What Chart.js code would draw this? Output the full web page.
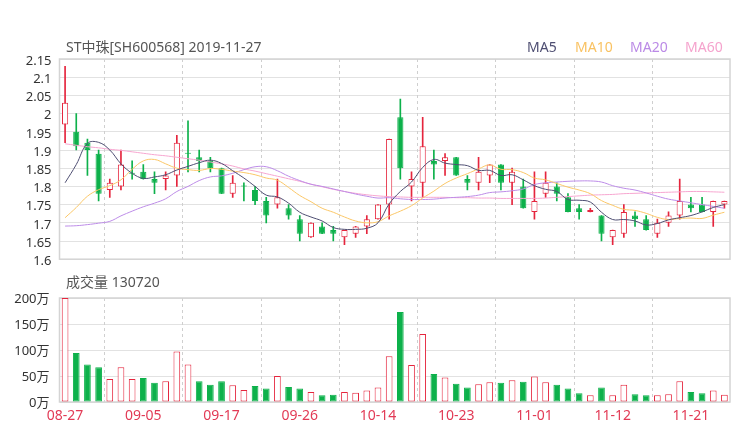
<!DOCTYPE html>
<html><head><meta charset="utf-8">
<script src="https://cdn.jsdelivr.net/npm/chart.js@4.4.1/dist/chart.umd.min.js"></script>
<style>
html,body{margin:0;padding:0;background:#fff;width:740px;height:440px;overflow:hidden;}
#wrap{position:relative;width:740px;height:440px;font-family:"Noto Sans","Noto Sans CJK SC",sans-serif;}
canvas{position:absolute;left:0;}
#c1{top:0;} #c2{top:280px;}
.t{position:absolute;white-space:nowrap;font-size:14px;line-height:16px;}
</style></head>
<body><div id="wrap">
<canvas id="c1" width="740" height="275"></canvas>
<canvas id="c2" width="740" height="160"></canvas>
<div class="t" style="left:66px;top:39px;color:#555">ST中珠[SH600568] 2019-11-27</div>
<div class="t" style="left:66px;top:274px;color:#555">成交量 130720</div>
<div class="t" style="left:527px;top:39px;color:#4e4e72">MA5</div>
<div class="t" style="left:575px;top:39px;color:#f9c262">MA10</div>
<div class="t" style="left:630px;top:39px;color:#bb8ae6">MA20</div>
<div class="t" style="left:685px;top:39px;color:#f5a3cd">MA60</div>
</div>
<script>
const dates = ['08-27','08-28','08-29','08-30','09-02','09-03','09-04','09-05','09-06','09-09',
 '09-10','09-11','09-12','09-16','09-17','09-18','09-19','09-20','09-23','09-24',
 '09-25','09-26','09-27','09-30','10-08','10-09','10-10','10-11','10-14','10-15',
 '10-16','10-17','10-18','10-21','10-22','10-23','10-24','10-25','10-28','10-29',
 '10-30','10-31','11-01','11-04','11-05','11-06','11-07','11-08','11-11','11-12',
 '11-13','11-14','11-15','11-18','11-19','11-20','11-21','11-22','11-25','11-26'];
const xTickLabels = ['08-27','09-05','09-17','09-26','10-14','10-23','11-01','11-12','11-21'];

const opens  = [1.97,1.95,1.92,1.89,1.79,1.80,1.835,1.84,1.82,1.82,1.83,1.89,1.88,1.87,1.85,1.78,1.80,1.79,1.76,1.75,1.74,1.71,1.66,1.69,1.68,1.66,1.67,1.69,1.71,1.75,1.99,1.80,1.81,1.87,1.87,1.88,1.82,1.81,1.83,1.86,1.81,1.80,1.73,1.78,1.80,1.77,1.74,1.73,1.72,1.66,1.67,1.72,1.71,1.67,1.70,1.72,1.75,1.75,1.73,1.75];
const closes = [2.03,1.91,1.90,1.78,1.81,1.86,1.835,1.82,1.81,1.83,1.92,1.89,1.87,1.85,1.78,1.81,1.80,1.76,1.72,1.77,1.72,1.67,1.70,1.67,1.67,1.68,1.69,1.71,1.75,1.93,1.85,1.82,1.91,1.86,1.88,1.83,1.81,1.84,1.86,1.81,1.84,1.74,1.76,1.81,1.78,1.73,1.73,1.735,1.67,1.68,1.73,1.71,1.68,1.70,1.72,1.76,1.74,1.73,1.76,1.76];
const highs  = [2.13,2.00,1.93,1.90,1.82,1.90,1.87,1.86,1.84,1.84,1.94,1.98,1.90,1.88,1.85,1.83,1.81,1.80,1.77,1.82,1.75,1.72,1.70,1.70,1.69,1.68,1.69,1.72,1.75,1.93,2.04,1.84,1.99,1.90,1.89,1.88,1.83,1.88,1.86,1.86,1.85,1.82,1.84,1.84,1.81,1.78,1.75,1.74,1.72,1.68,1.75,1.73,1.72,1.71,1.73,1.82,1.77,1.77,1.76,1.76];
const lows   = [1.92,1.90,1.83,1.76,1.77,1.79,1.82,1.82,1.78,1.79,1.80,1.84,1.84,1.84,1.78,1.77,1.76,1.75,1.70,1.74,1.71,1.65,1.66,1.67,1.65,1.64,1.66,1.67,1.71,1.71,1.82,1.76,1.77,1.82,1.83,1.83,1.79,1.79,1.81,1.79,1.75,1.74,1.71,1.77,1.76,1.73,1.71,1.73,1.65,1.64,1.66,1.69,1.68,1.66,1.69,1.71,1.73,1.73,1.69,1.74];

const ma5  = [1.810,1.860,1.918,1.921,1.900,1.862,1.836,1.822,1.826,1.832,1.845,1.855,1.865,1.872,1.863,1.843,1.823,1.800,1.776,1.771,1.754,1.729,1.716,1.705,1.687,1.682,1.682,1.685,1.700,1.752,1.786,1.812,1.852,1.874,1.864,1.860,1.857,1.844,1.844,1.830,1.832,1.818,1.802,1.792,1.786,1.764,1.762,1.757,1.729,1.709,1.709,1.705,1.694,1.698,1.708,1.714,1.720,1.730,1.742,1.750];
const ma10 = [1.714,1.742,1.773,1.791,1.802,1.818,1.847,1.870,1.874,1.862,1.850,1.846,1.844,1.849,1.847,1.842,1.838,1.832,1.823,1.817,1.797,1.775,1.758,1.740,1.729,1.716,1.705,1.700,1.703,1.719,1.732,1.747,1.768,1.787,1.808,1.823,1.835,1.848,1.859,1.847,1.846,1.838,1.823,1.818,1.808,1.798,1.790,1.780,1.761,1.748,1.737,1.734,1.726,1.715,1.709,1.712,1.713,1.712,1.721,1.729];
const ma20 = [1.691,1.692,1.695,1.699,1.704,1.719,1.732,1.744,1.754,1.766,1.786,1.800,1.816,1.826,1.829,1.836,1.846,1.854,1.854,1.843,1.828,1.816,1.806,1.800,1.793,1.786,1.779,1.773,1.768,1.769,1.766,1.764,1.764,1.765,1.768,1.770,1.772,1.776,1.783,1.785,1.788,1.793,1.805,1.810,1.812,1.814,1.815,1.815,1.812,1.802,1.795,1.790,1.782,1.773,1.765,1.760,1.755,1.750,1.745,1.740];
const ma60 = [1.917,1.913,1.909,1.906,1.902,1.899,1.895,1.891,1.887,1.884,1.880,1.876,1.872,1.867,1.862,1.856,1.848,1.842,1.835,1.828,1.821,1.814,1.806,1.799,1.792,1.786,1.781,1.777,1.774,1.772,1.771,1.770,1.770,1.770,1.770,1.769,1.769,1.768,1.768,1.767,1.767,1.767,1.767,1.768,1.770,1.772,1.774,1.776,1.777,1.778,1.780,1.781,1.782,1.783,1.784,1.785,1.786,1.786,1.785,1.784];

// volume in 万
const volumes = [200,94,72,67,44,67,44,46,37,40,97,72,40,33,40,32,23,31,26,50,29,26,19,13,14,19,18,22,28,88,173,71,131,54,47,35,28,34,38,37,42,39,49,38,33,26,17,13,28,13,33,15,13,13,15,40,19,17,22,14];

const priceTicks = [1.6,1.65,1.7,1.75,1.8,1.85,1.9,1.95,2,2.05,2.1,2.15];
const priceTickLabels = ['1.6','1.65','1.7','1.75','1.8','1.85','1.9','1.95','2','2.05','2.1','2.15'];
const volTicks = [0,50,100,150,200];
const volTickLabels = ['0万','50万','100万','150万','200万'];

const RED = '#e5253d', GREEN = '#0db14b';
const FONT = '"Noto Sans","Noto Sans CJK SC",sans-serif';

const candleUp = closes.map((c,i)=>c>opens[i]);
const volUp = closes.map((c,i)=>c>=opens[i]);
const labelIdx = xTickLabels.map(l=>dates.indexOf(l));
const gridIdx = [];
for (let k=0;k<labelIdx.length-1;k++) gridIdx.push((labelIdx[k]+labelIdx[k+1])/2);

const framePlugin = {
  id:'frame',
  beforeDatasetsDraw(chart){
    const {ctx, chartArea:a} = chart;
    const x = chart.scales.x;
    ctx.save();
    ctx.strokeStyle='#cfcfcf'; ctx.lineWidth=1; ctx.setLineDash([3,3]);
    gridIdx.forEach(v=>{
      const px = Math.round(x.getPixelForValue(v))+0.5;
      ctx.beginPath(); ctx.moveTo(px,a.top); ctx.lineTo(px,a.bottom); ctx.stroke();
    });
    ctx.setLineDash([]);
    ctx.strokeStyle='#d4d4d4'; ctx.lineWidth=1.5;
    ctx.strokeRect(a.left,a.top,a.right-a.left,a.bottom-a.top);
    ctx.restore();
  }
};

function lineDs(label, data, color){
  return {type:'line', label, data, borderColor:color, borderWidth:1, pointRadius:0,
          tension:0.4, fill:false, order:0};
}

new Chart(document.getElementById('c1'), {
  type:'bar',
  data:{
    labels:dates,
    datasets:[
      {type:'bar', label:'body', data:opens.map((o,i)=>[o,closes[i]]),
       backgroundColor:candleUp.map(u=>u?'#ffffff':GREEN),
       borderColor:candleUp.map(u=>u?RED:GREEN),
       borderWidth:1, borderSkipped:false, minBarLength:1,
       barPercentage:0.55, categoryPercentage:1, grouped:false, order:1},
      {type:'bar', label:'wick', data:lows.map((l,i)=>[l,highs[i]]),
       backgroundColor:candleUp.map(u=>u?RED:GREEN),
       borderWidth:0, barThickness:1, grouped:false, order:2},
      lineDs('MA5', ma5, '#4e4e72'),
      lineDs('MA10', ma10, '#fbc767'),
      lineDs('MA20', ma20, '#bd8ce8'),
      lineDs('MA60', ma60, '#f7a6d0')
    ]
  },
  options:{
    responsive:false, animation:false, devicePixelRatio:1,
    layout:{padding:{top:59,right:10,bottom:13,left:0}},
    plugins:{legend:{display:false}, tooltip:{enabled:false}},
    scales:{
      x:{display:false, offset:true, grid:{display:false}},
      y:{min:1.6, max:2.15,
         afterFit(s){ s.width = 59.5; },
         afterBuildTicks(s){ s.ticks = priceTicks.map(v=>({value:v})); },
         ticks:{autoSkip:false, padding:8, labelOffset:2, color:'#333', font:{size:13, family:FONT},
                callback:(v,i)=>priceTickLabels[i]},
         grid:{color:'#e2e2e2', drawTicks:false},
         border:{display:false}}
    }
  },
  plugins:[framePlugin]
});

new Chart(document.getElementById('c2'), {
  type:'bar',
  data:{
    labels:dates,
    datasets:[
      {label:'vol', data:volumes,
       backgroundColor:volUp.map(u=>u?'#ffffff':GREEN),
       borderColor:volUp.map(u=>u?RED:GREEN),
       borderWidth:1, borderSkipped:false,
       barPercentage:0.6, categoryPercentage:1}
    ]
  },
  options:{
    responsive:false, animation:false, devicePixelRatio:1,
    layout:{padding:{top:18,right:10,bottom:8,left:0}},
    plugins:{legend:{display:false}, tooltip:{enabled:false}},
    scales:{
      x:{offset:true,
         afterFit(s){ s.height = 30; },
         grid:{display:false, drawTicks:false}, border:{display:false},
         ticks:{autoSkip:false, maxRotation:0, padding:6, color:'#e23a55',
                font:{size:14, family:FONT},
                callback:(v,i)=> xTickLabels.includes(dates[i]) ? dates[i] : null}},
      y:{min:0, max:200,
         afterFit(s){ s.width = 59.5; },
         afterBuildTicks(s){ s.ticks = volTicks.map(v=>({value:v})); },
         ticks:{autoSkip:false, padding:10, labelOffset:1, color:'#333', font:{size:13, family:FONT},
                callback:(v,i)=>volTickLabels[i]},
         grid:{color:'#e2e2e2', drawTicks:false},
         border:{display:false}}
    }
  },
  plugins:[framePlugin]
});
</script>
</body></html>
